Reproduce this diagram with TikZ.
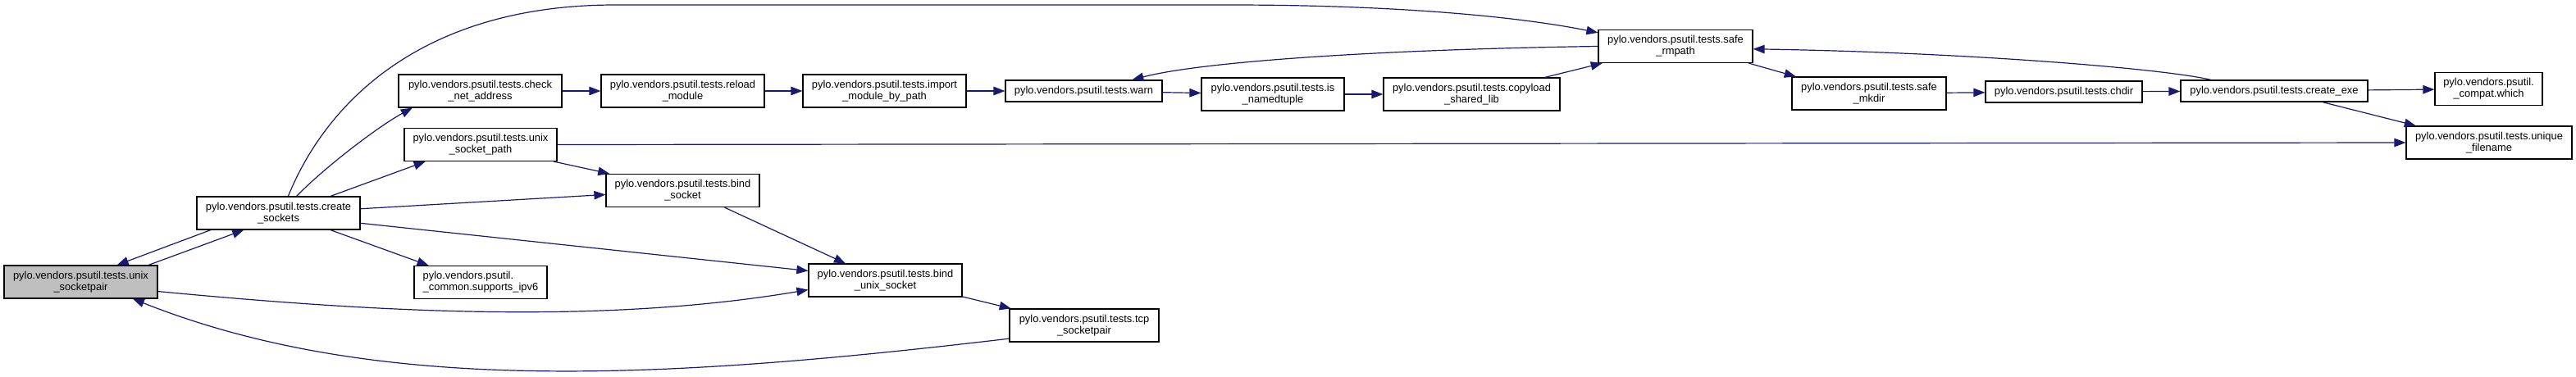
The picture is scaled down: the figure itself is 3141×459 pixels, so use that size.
\documentclass[tikz,border=0pt]{standalone}
\usepackage{fontspec}
\setmainfont{Liberation Sans}
\usepackage{tikz}
\usetikzlibrary{arrows.meta}
\definecolor{navy}{HTML}{191970}
\definecolor{hilite}{HTML}{BFBFBF}

\begin{document}
\begin{tikzpicture}[x=1pt,y=-1pt,
  fn/.style={draw=black,fill=white,line width=1.2pt,inner sep=0pt,align=center,
    minimum height=40pt,font=\fontsize{12.9}{14}\selectfont},
  call/.style={navy,line width=1.2pt,-{Triangle[length=14pt,width=10.5pt]}}]
  \useasboundingbox (0,0) rectangle (3141,459);
  \node[fn,fill=hilite,minimum width=187pt] (usp) at (98.5,344) {pylo.vendors.psutil.tests.unix\\\_socketpair};
  \node[fn,minimum width=199pt] (csock) at (339.5,260) {pylo.vendors.psutil.tests.create\\\_sockets};
  \node[fn,minimum width=199pt] (chk) at (585.5,111) {pylo.vendors.psutil.tests.check\\\_net\_address};
  \node[fn,minimum width=199pt] (reld) at (832.5,111) {pylo.vendors.psutil.tests.reload\\\_module};
  \node[fn,minimum width=199pt] (impm) at (1078.5,111) {pylo.vendors.psutil.tests.import\\\_module\_by\_path};
  \node[fn,minimum width=191pt,minimum height=26pt] (warn) at (1321.5,111) {pylo.vendors.psutil.tests.warn};
  \node[fn,minimum width=174pt] (isnt) at (1552,115) {pylo.vendors.psutil.tests.is\\\_namedtuple};
  \node[fn,minimum width=215pt] (cplib) at (1794.5,115) {pylo.vendors.psutil.tests.copyload\\\_shared\_lib};
  \node[fn,minimum width=188pt] (rmp) at (2043,56.5) {pylo.vendors.psutil.tests.safe\\\_rmpath};
  \node[fn,minimum width=188pt] (mkd) at (2279,114) {pylo.vendors.psutil.tests.safe\\\_mkdir};
  \node[fn,minimum width=191pt,minimum height=26pt] (chd) at (2516.5,112) {pylo.vendors.psutil.tests.chdir};
  \node[fn,minimum width=228pt,minimum height=26pt] (cexe) at (2773,111) {pylo.vendors.psutil.tests.create\_exe};
  \node[fn,minimum width=131pt] (which) at (3034.5,108.5) {pylo.vendors.psutil.\\\_compat.which};
  \node[fn,minimum width=202pt] (ufn) at (3035,174) {pylo.vendors.psutil.tests.unique\\\_filename};
  \node[fn,minimum width=186pt] (usock) at (586,176.5) {pylo.vendors.psutil.tests.unix\\\_socket\_path};
  \node[fn,minimum width=187pt] (bsock) at (832.5,232.5) {pylo.vendors.psutil.tests.bind\\\_socket};
  \node[fn,minimum width=162pt,align=left] (ipv6) at (586,344.5) {pylo.vendors.psutil.\\\_common.supports\_ipv6};
  \node[fn,minimum width=187pt] (bunix) at (1079.5,342) {pylo.vendors.psutil.tests.bind\\\_unix\_socket};
  \node[fn,minimum width=182pt] (tcp) at (1322,397) {pylo.vendors.psutil.tests.tcp\\\_socketpair};

  \draw[call] (usp.14) -- (csock.206);
  \draw[call] (csock.194) -- (usp.25);
  \draw[call] (csock.43) .. controls (395,205) and (460,155) .. (chk.194);
  \draw[call] (csock.18) -- (usock.197);
  \draw[call] (csock.3) -- (bsock.183);
  \draw[call] (csock.-18) -- (ipv6.162);
  \draw[call] (csock.-7) -- (bunix.173);
  \draw[call] (csock.60) .. controls (400,120) and (520,6) .. (750,6) -- (1500,6)
    .. controls (1700,6) and (1850,20) .. (rmp.170);
  \draw[call] (chk) -- (reld);
  \draw[call] (reld) -- (impm);
  \draw[call] (impm) -- (warn);
  \draw[call] (warn) -- (isnt);
  \draw[call] (isnt) -- (cplib);
  \draw[call] (cplib.13) -- (rmp.193);
  \draw[call] (rmp.west) .. controls (1700,60) and (1470,74) .. (warn.13);
  \draw[call] (rmp.-13) -- (mkd.167);
  \draw[call] (mkd) -- (chd);
  \draw[call] (chd) -- (cexe);
  \draw[call] (cexe.170) .. controls (2640,84) and (2400,64) .. (rmp.-2);
  \draw[call] (cexe) -- (which);
  \draw[call] (cexe.-13) -- (ufn.167);
  \draw[call] (usock.east) -- (ufn.west);
  \draw[call] (usock.-13) -- (bsock.167);
  \draw[call] (bsock.-22) -- (bunix.157);
  \draw[call] (usp.-7) .. controls (450,380) and (728,397) .. (bunix.187);
  \draw[call] (bunix.-12) -- (tcp.167);
  \draw[call] (tcp.190) .. controls (809,463) and (460,483) .. (usp.-18);
\end{tikzpicture}
\end{document}
